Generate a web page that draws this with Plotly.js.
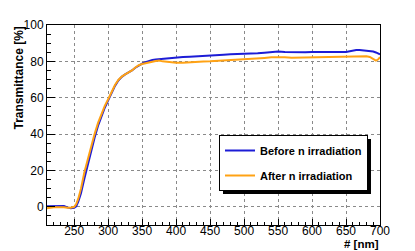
<!DOCTYPE html>
<html><head><meta charset="utf-8">
<script src="https://cdn.plot.ly/plotly-3.0.1.min.js"></script>
<style>html,body{margin:0;padding:0;background:#fff;} #chart{width:415px;height:251px;}</style>
</head><body><div id="chart"></div>
<script>
const wavelength = [210,215,220,225,230,235,240,245,250,253,256,260,265,270,275,280,285,290,295,300,305,310,315,320,325,330,335,340,345,350,355,360,365,370,375,380,390,400,410,420,430,440,450,460,470,480,490,500,510,520,530,540,550,560,570,580,590,600,610,620,630,640,650,655,660,665,670,675,680,685,690,694,697,700];
const transBefore = [0.3,0.3,0.5,0.6,0.6,0.4,-0.3,-0.8,-0.6,0.3,2.8,7.5,15.5,23.5,31,38,44.5,50,54.5,58.5,62.5,66.5,69.5,71.5,72.8,73.8,75,76.5,77.8,78.8,79.6,80.3,80.7,81,81.2,81.5,81.9,82.2,82.4,82.6,82.9,83.1,83.4,83.6,83.7,83.9,84,84,84.2,84.4,84.8,85.2,85.4,85.2,85,84.9,85,85.2,85.3,85.3,85.3,85.2,85.2,85.6,86.1,86.3,86.2,86.1,85.9,85.7,85.4,84.9,84.4,83.8];
const transAfter = [-0.8,-0.4,-0.2,-0.2,-0.1,-0.3,-0.5,-0.5,0,1.5,4.5,10,19,26.5,33.5,40,46,51,55.5,59.2,63,67,69.8,71.6,72.8,73.8,75,76.6,77.9,78.5,79,79.4,79.8,80.2,80.5,80,79.6,79.2,79.3,79.6,79.8,79.9,80,80.2,80.4,80.6,81,81.2,81.4,81.6,81.9,82.2,82.3,82.2,82,82.1,82,82.1,82.2,82.2,82.3,82.4,82.4,82.5,82.5,82.6,82.7,82.8,82.8,82.4,81.2,80.4,81,82.3];
const seriesNames = ['Before n irradiation', 'After n irradiation'];
const seriesColors = ['#1c1cd6', '#ffa214'];
const xTitle = '# [nm]';
const yTitle = 'Transmittance [%]';

const FONT = 'Liberation Sans, Arial, Helvetica, sans-serif';
const traces = [
  {x: wavelength, y: transBefore, name: seriesNames[0], legendgroup: 'a', type: 'scatter', mode: 'lines',
   line: {color: seriesColors[0], width: 2}},
  {x: wavelength, y: transAfter, name: seriesNames[1], legendgroup: 'b', type: 'scatter', mode: 'lines',
   line: {color: seriesColors[1], width: 2}}
];
const axisCommon = {
  showline: true, linecolor: '#000', linewidth: 1, mirror: true,
  ticks: 'inside', tickcolor: '#000', tickwidth: 1,
  showgrid: true, gridcolor: '#8a8a8a', griddash: 'dot', gridwidth: 1,
  zeroline: false,
  tickfont: {family: FONT, size: 12, color: '#000'}
};
const layout = {
  width: 415, height: 251,
  margin: {l: 47, r: 35, t: 25, b: 26},
  paper_bgcolor: '#fff', plot_bgcolor: '#fff',
  showlegend: true,
  xaxis: Object.assign({}, axisCommon, {range: [210, 700], tick0: 0, dtick: 50, ticklen: 6,
    ticklabelstandoff: -5,
    minor: {dtick: 10, ticks: 'inside', ticklen: 3, tickcolor: '#000', showgrid: false}}),
  yaxis: Object.assign({}, axisCommon, {range: [-10, 100], tick0: 0, dtick: 20, ticklen: 8,
    minor: {dtick: 5, ticks: 'inside', ticklen: 4, tickcolor: '#000', showgrid: false}}),
  legend: {x: 0.5165, y: 0.45, xanchor: 'left', yanchor: 'top', bgcolor: '#fff',
    bordercolor: '#000', borderwidth: 1, traceorder: 'grouped', tracegroupgap: 6,
    font: {family: FONT, size: 11, color: '#000', weight: 'bold'}},
  annotations: [
    {text: yTitle, xref: 'paper', yref: 'paper', x: -0.087, y: 1, xanchor: 'center', yanchor: 'top',
     textangle: -90, showarrow: false, font: {family: FONT, size: 12, color: '#000', weight: 'bold'}},
    {text: xTitle, xref: 'paper', yref: 'paper', x: 1, y: -0.128, xanchor: 'right', yanchor: 'bottom',
     showarrow: false, borderpad: 0, font: {family: FONT, size: 11.5, color: '#000', weight: 'bold'}}
  ]
};
Plotly.newPlot('chart', traces, layout, {staticPlot: true}).then(function (gd) {
  const bg = gd.querySelector('.legend .bg');
  if (!bg) return;
  const r = bg.getBoundingClientRect();
  const c = gd.getBoundingClientRect();
  const fl = gd._fullLayout;
  const px2x = function (p) { return (p - fl._size.l) / fl._size.w; };
  const px2y = function (p) { return 1 - (p - fl._size.t) / fl._size.h; };
  const off = 3.5;
  Plotly.relayout(gd, {shapes: [{type: 'rect', xref: 'paper', yref: 'paper', layer: 'above',
    x0: px2x(r.left - c.left + off), x1: px2x(r.right - c.left + off),
    y0: px2y(r.top - c.top + off), y1: px2y(r.bottom - c.top + off),
    fillcolor: '#000', line: {width: 0}}]});
});
</script>
</body></html>
